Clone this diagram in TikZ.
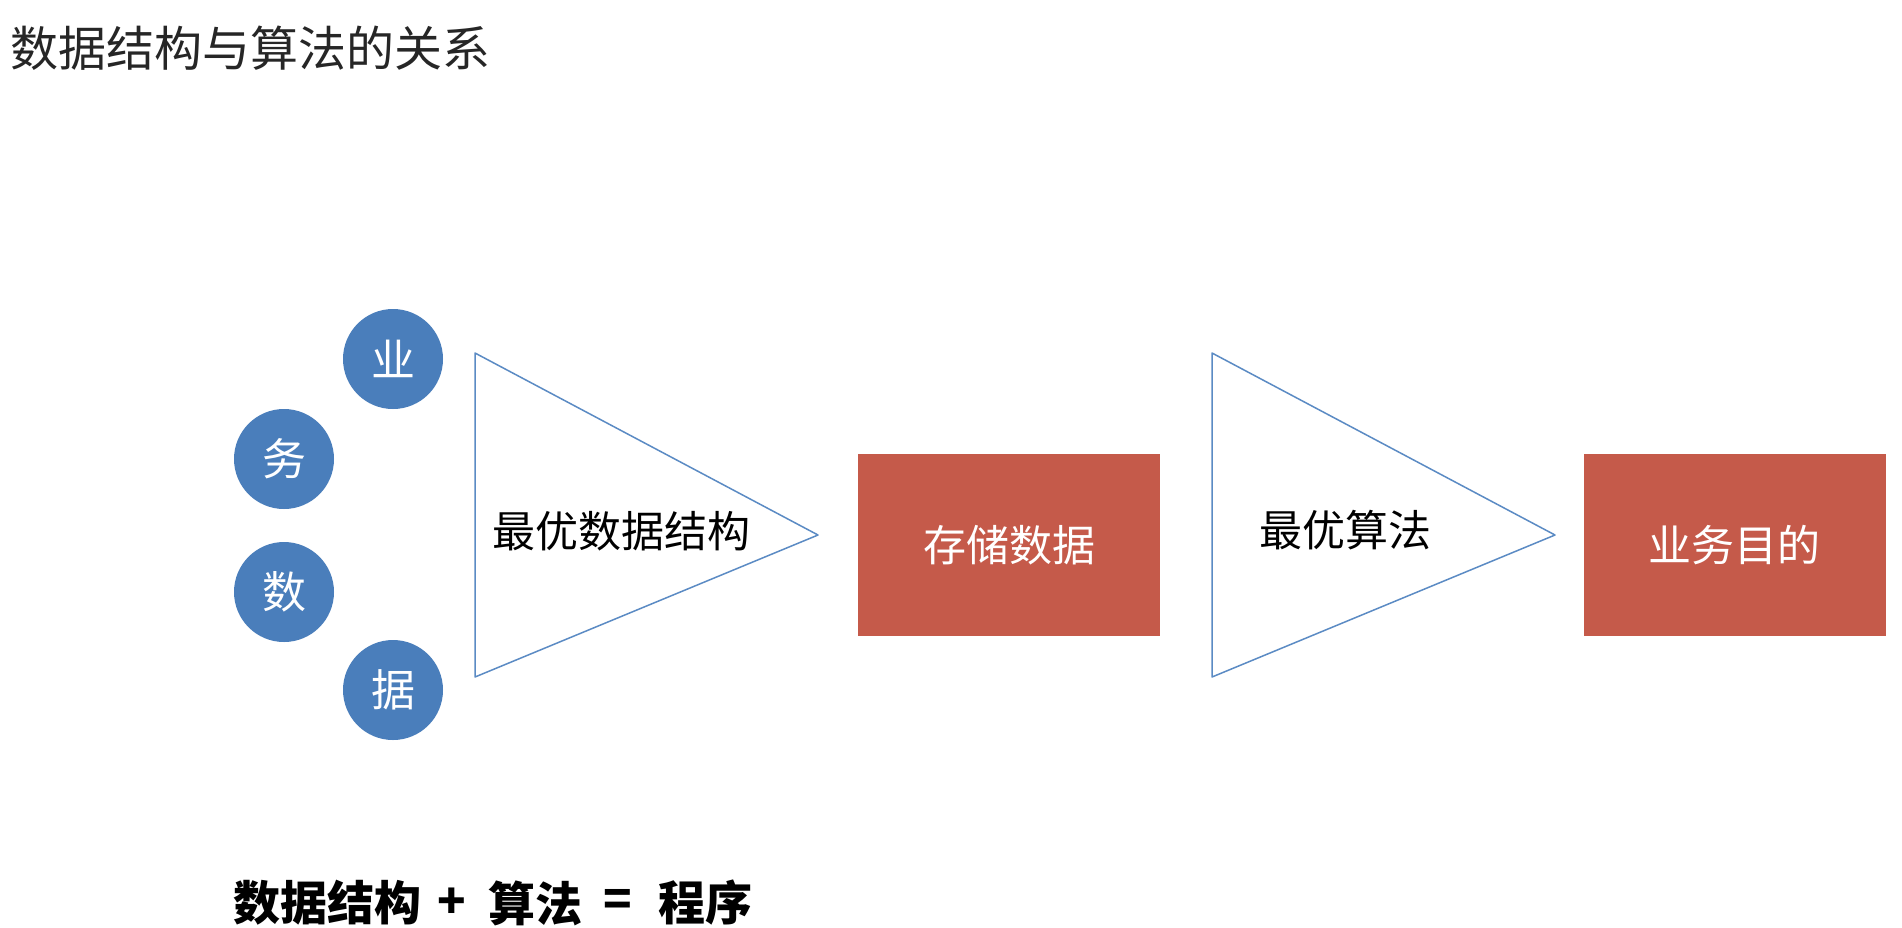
\documentclass[tikz,border=0pt]{standalone}
\usepackage{fontspec}
\newfontfamily\cjk{Noto Sans CJK SC}
\definecolor{cblue}{HTML}{4A7EBB}
\definecolor{cred}{HTML}{C55A4A}
\definecolor{ctri}{HTML}{5B8BC4}
\begin{document}
\begin{tikzpicture}[x=1pt,y=-1pt,
  ball/.style={circle,fill=cblue,draw=none,minimum size=100pt,inner sep=0pt,text=white,font=\cjk\fontsize{44}{50}\selectfont},
  redbox/.style={rectangle,fill=cred,draw=none,minimum width=302pt,minimum height=182pt,inner sep=0pt,text=white,font=\cjk\fontsize{43}{50}\selectfont},
  tri/.style={draw=ctri,line width=1.5pt,line join=round},
  trilabel/.style={inner sep=0pt,text=black,font=\cjk\fontsize{43}{50}\selectfont},
  formula/.style={inner sep=0pt,text=black,font=\cjk\bfseries\fontsize{47}{52}\selectfont}]
\useasboundingbox[fill=white] (0,0) rectangle (1902,927);
% title
\node[anchor=west,inner sep=0pt,text=black!85,font=\cjk\fontsize{48}{54}\selectfont] (title) at (10,48) {数据结构与算法的关系};
% circles
\node[ball] (c1) at (393,359) {业};
\node[ball] (c2) at (284,459) {务};
\node[ball] (c3) at (284,592) {数};
\node[ball] (c4) at (393,690) {据};
% triangle 1
\coordinate (t1a) at (475,353);
\coordinate (t1b) at (475,677);
\coordinate (t1c) at (818,535);
\draw[tri] (t1a) -- (t1c) -- (t1b) -- cycle;
\node[trilabel] (l1) at (621,531) {最优数据结构};
% box 1
\node[redbox] (b1) at (1009,545) {存储数据};
% triangle 2
\coordinate (t2a) at (1212,353);
\coordinate (t2b) at (1212,677);
\coordinate (t2c) at (1555,535);
\draw[tri] (t2a) -- (t2c) -- (t2b) -- cycle;
\node[trilabel] (l2) at (1345,530) {最优算法};
% box 2
\node[redbox] (b2) at (1734.5,545) {业务目的};
% formula
\node[formula,anchor=west] (f1) at (233,903) {数据结构};
\node[formula] (f2) at (452,903) {+};
\node[formula,anchor=west] (f3) at (488,903) {算法};
\node[formula] (f4) at (618,903) {=};
\node[formula,anchor=west] (f5) at (658,903) {程序};
\end{tikzpicture}
\end{document}
